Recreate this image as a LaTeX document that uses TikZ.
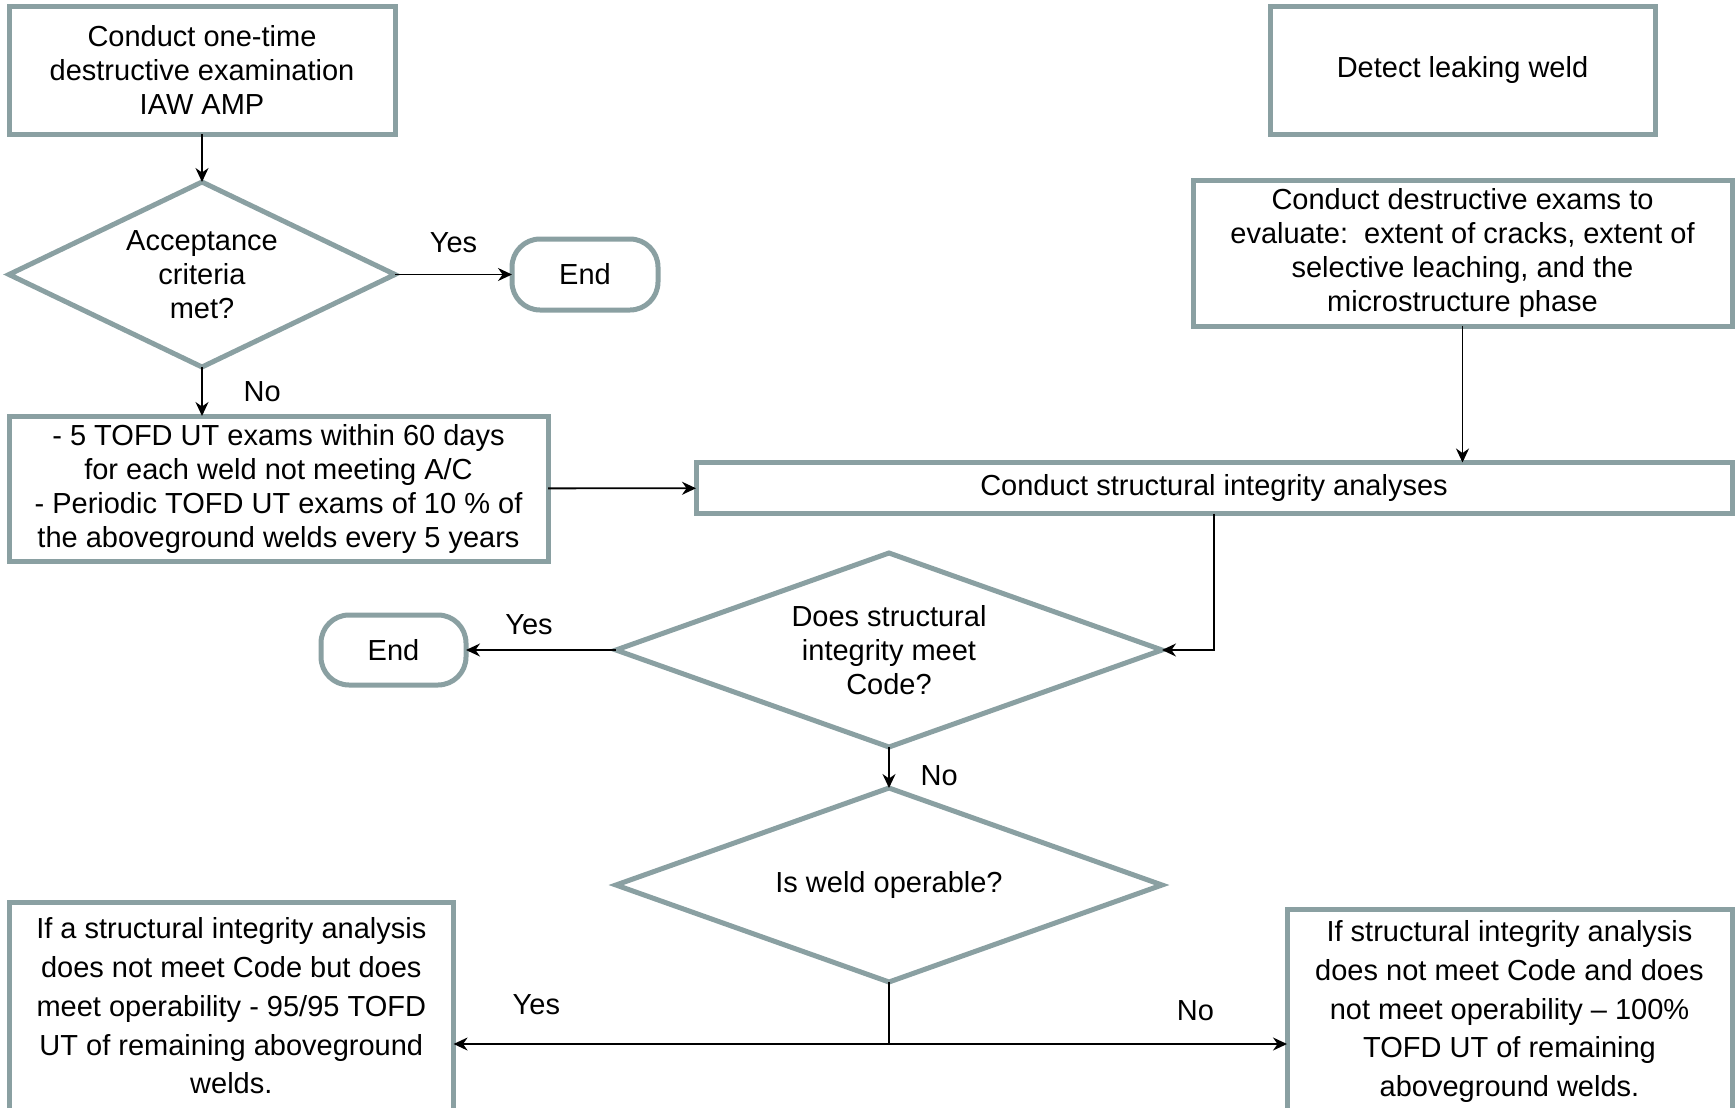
\documentclass[tikz,border=0pt]{standalone}
\usepackage{fontspec}
\setmainfont{Liberation Sans}
\usetikzlibrary{positioning,shapes.geometric,arrows.meta}
\definecolor{framegray}{RGB}{138,160,162}

\begin{document}
\begin{tikzpicture}[x=0.5pt,y=-0.5pt,>={Stealth[length=7pt,width=6.5pt]},line width=0.9pt,
  every node/.style={font=\fontsize{14.5}{17}\selectfont},
  proc/.style={draw=framegray,line width=2.5pt,outer sep=0pt,align=center},
  dec/.style={proc,diamond,aspect=2,inner sep=0pt},
  term/.style={proc,rounded corners=14pt}]
  \useasboundingbox (0,0) rectangle (1735,1108);
  \clip (0,0) rectangle (1735,1108);
  \node[proc,minimum width=193pt,minimum height=64pt] (exam) at (202,70) {Conduct one-time\\destructive examination\\IAW AMP};
  \node[dec,minimum width=193pt,minimum height=92.5pt,below=24pt of exam] (accept) {Acceptance\\criteria\\met?};
  \node[term,minimum width=73pt,minimum height=35.5pt,right=58.5pt of accept] (endA) {End};
  \node[proc,minimum width=269.5pt,minimum height=72.5pt] (tofd) at (278.5,488.5) {- 5 TOFD UT exams within 60 days\\for each weld not meeting A/C\\- Periodic TOFD UT exams of 10 \% of\\the aboveground welds every 5 years};
  \node[proc,minimum width=192.5pt,minimum height=64pt] (leak) at (1462.5,70) {Detect leaking weld};
  \node[proc,minimum width=269.5pt,minimum height=73pt,below=23pt of leak] (destr) {Conduct destructive exams to\\evaluate:\ \ extent of cracks, extent of\\selective leaching, and the\\microstructure phase};
  \node[proc,minimum width=518pt,minimum height=25.5pt] (sia) at (1214,488) {Conduct structural integrity analyses};
  \node[dec,minimum width=273pt,minimum height=97pt] (meet) at (889,650) {Does structural\\integrity meet\\Code?};
  \node[term,minimum width=72.5pt,minimum height=35pt,left=75pt of meet] (endB) {End};
  \node[dec,minimum width=273pt,minimum height=97pt,below=20.5pt of meet] (oper) {Is weld operable?};
  \node[proc,minimum width=222.3pt,minimum height=104pt,anchor=north west,font=\fontsize{14.5}{19.4}\selectfont] (yesbox) at (9,902) {If a structural integrity analysis\\does not meet Code but does\\meet operability - 95/95 TOFD\\UT of remaining aboveground\\welds.};
  \node[proc,minimum width=222.5pt,minimum height=102pt,anchor=north west,font=\fontsize{14.5}{19.4}\selectfont] (nobox) at (1287,909.5) {If structural integrity analysis\\does not meet Code and does\\not meet operability -- 100\%\\TOFD UT of remaining\\aboveground welds.};
  \coordinate[below=31pt of oper.south] (split);
  \path[->]
    (exam) edge (accept)
    (accept) edge node[midway,above=7pt] {Yes} (endA)
    (accept.south) edge node[midway,right=17pt] {No} (accept.south |- tofd.north)
    (tofd) edge (sia)
    (destr.south) edge (destr.south |- sia.north)
    (meet) edge node[pos=0.58,above=4pt] {Yes} (endB)
    (meet) edge node[pos=0.7,right=12pt] {No} (oper);
  \draw[->] (sia.south) |- (meet.east);
  \draw (oper.south) -- (split);
  \draw[->] (split) -- (split -| yesbox.east) node[pos=0.81,above=11pt] {Yes};
  \draw[->] (split) -- (split -| nobox.west) node[pos=0.77,above=8pt] {No};
\end{tikzpicture}
\end{document}
